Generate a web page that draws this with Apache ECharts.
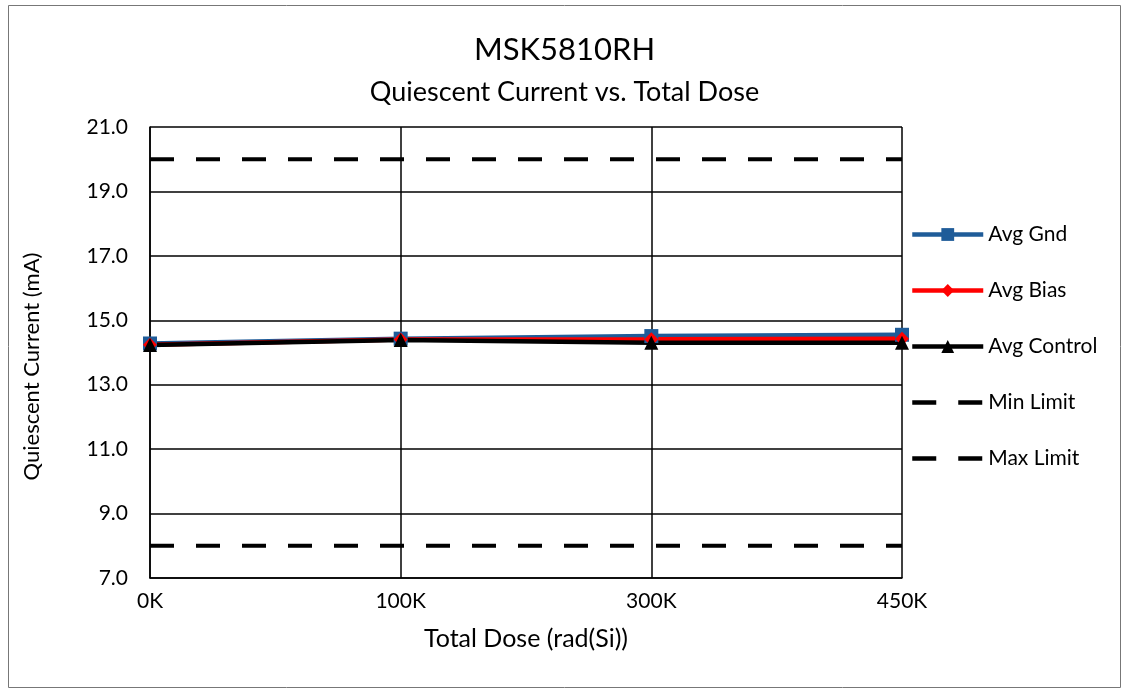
<!DOCTYPE html>
<html><head><meta charset="utf-8">
<script src="https://cdn.jsdelivr.net/npm/echarts@6/dist/echarts.min.js"></script>
<style>html,body{margin:0;padding:0;background:#fff}#c{width:1129px;height:690px}</style>
</head><body><div id="c"></div>
<script>
const categories = ['0K','100K','300K','450K'];
const avgGnd = [14.28, 14.43, 14.51, 14.55];
const avgBias = [14.24, 14.40, 14.41, 14.43];
const avgControl = [14.23, 14.39, 14.30, 14.30];
const minLimit = [8, 8, 8, 8];
const maxLimit = [20, 20, 20, 20];
const FONT = 'Lato';
const DASH = [24, 22];
const chart = echarts.init(document.getElementById('c'));
chart.setOption({
  backgroundColor:'#fff',
  textStyle:{fontFamily:FONT},
  graphic:[{type:'rect',shape:{x:8.5,y:5.5,width:1112,height:682},style:{fill:'none',stroke:'#777',lineWidth:1}}],
  title:[
    {text:'MSK5810RH',left:'center',top:29,textStyle:{fontFamily:FONT,fontSize:31,fontWeight:'normal',color:'#000'}},
    {text:'Quiescent Current vs. Total Dose',left:'center',top:74,textStyle:{fontFamily:FONT,fontSize:27,fontWeight:'normal',color:'#000'}}
  ],
  grid:{left:150,right:227,top:127,bottom:112},
  legend:{orient:'vertical',left:905,top:219,itemWidth:71,itemHeight:16,itemGap:35,
    textStyle:{fontFamily:FONT,fontSize:21,color:'#000'},
    data:[
      {name:'Avg Gnd',lineStyle:{width:4.5}},
      {name:'Avg Bias',lineStyle:{width:4.5}},
      {name:'Avg Control',lineStyle:{width:4.5}},
      {name:'Min Limit',itemStyle:{opacity:0},lineStyle:{width:4.5,type:DASH,color:'#000'}},
      {name:'Max Limit',itemStyle:{opacity:0},lineStyle:{width:4.5,type:DASH,color:'#000'}}
    ]},
  xAxis:{type:'category',data:categories,boundaryGap:false,
    name:'Total Dose (rad(Si))',nameLocation:'middle',nameGap:48,
    nameTextStyle:{fontFamily:FONT,fontSize:25,color:'#000'},
    axisLine:{lineStyle:{color:'#000',width:1.5}},axisTick:{show:false},
    axisLabel:{fontFamily:FONT,fontSize:21,color:'#000',margin:13},
    splitLine:{show:true,lineStyle:{color:'#000',width:1.5}}},
  yAxis:{type:'value',min:7,max:21,interval:2,
    name:'Quiescent Current (mA)',nameLocation:'middle',nameGap:107,
    nameTextStyle:{fontFamily:FONT,fontSize:22,color:'#000',padding:[0,28,0,0]},
    axisLine:{show:true,lineStyle:{color:'#000',width:1.5}},axisTick:{show:false},
    axisLabel:{fontFamily:FONT,fontSize:21,color:'#000',margin:22,formatter:v=>v.toFixed(1)},
    splitLine:{show:true,lineStyle:{color:'#000',width:1.5}}},
  series:[
    {name:'Min Limit',type:'line',data:minLimit,symbol:'none',z:1,
      lineStyle:{color:'#000',width:4,type:DASH},itemStyle:{color:'#000'}},
    {name:'Max Limit',type:'line',data:maxLimit,symbol:'none',z:1,
      lineStyle:{color:'#000',width:4,type:DASH},itemStyle:{color:'#000'}},
    {name:'Avg Gnd',type:'line',data:avgGnd,symbol:'rect',symbolSize:14,
      lineStyle:{color:'#1f5c99',width:4.5},itemStyle:{color:'#1f5c99'}},
    {name:'Avg Bias',type:'line',data:avgBias,symbol:'diamond',symbolSize:14,
      lineStyle:{color:'#ff0000',width:4.5},itemStyle:{color:'#ff0000'}},
    {name:'Avg Control',type:'line',data:avgControl,symbol:'triangle',symbolSize:14,
      lineStyle:{color:'#000',width:4.5},itemStyle:{color:'#000'}}
  ]
});
</script></body></html>
